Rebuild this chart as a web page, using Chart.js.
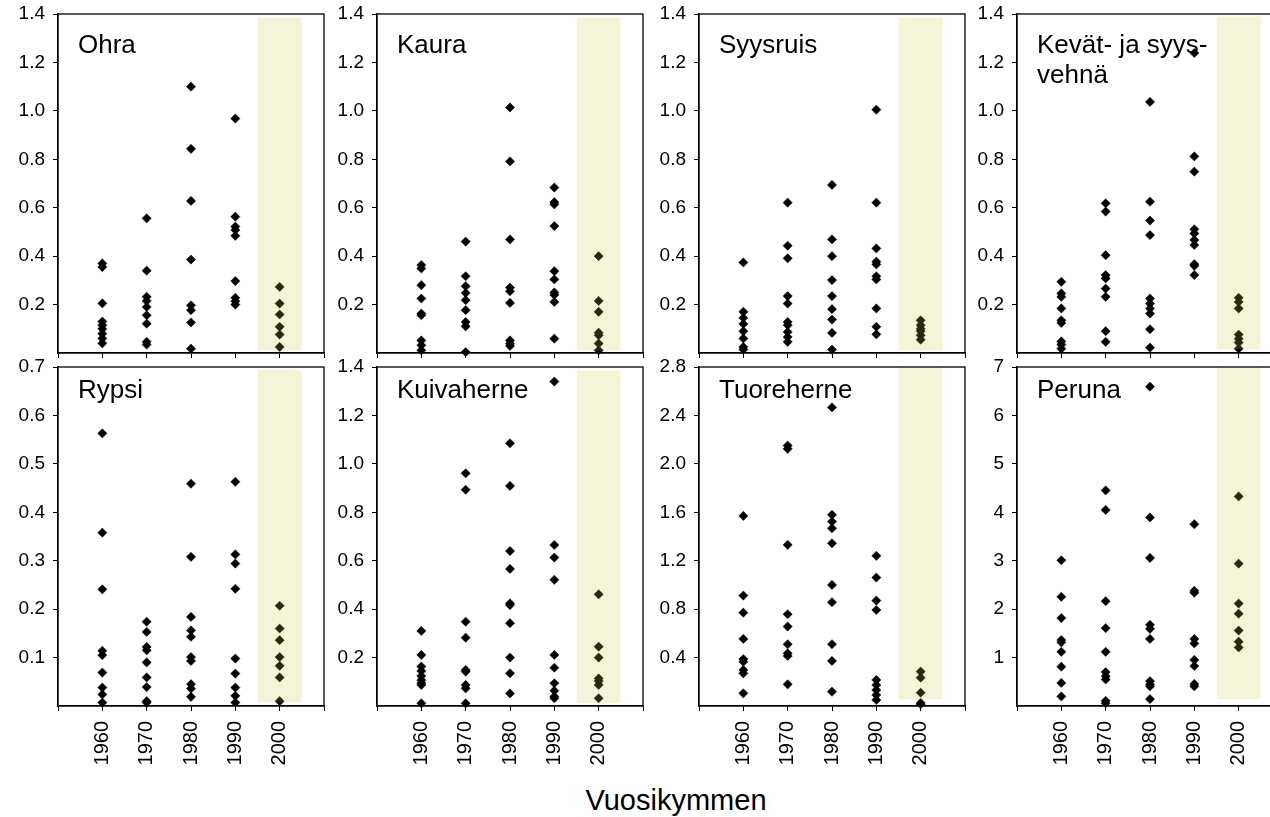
<!DOCTYPE html>
<html>
<head>
<meta charset="utf-8">
<script src="https://cdn.jsdelivr.net/npm/chart.js@4.4.1/dist/chart.umd.min.js"></script>
<style>
  body { margin: 0; background: #fff; width: 1270px; height: 817px; overflow: hidden; position: relative;
         font-family: "Liberation Sans", Arial, sans-serif; }
  canvas { position: absolute; }
  #xtitle { position: absolute; left: 476px; width: 400px; top: 786px; text-align: center;
            font-size: 29px; line-height: 29px; color: #000; }
</style>
</head>
<body>
<div id="xtitle">Vuosikymmen</div>
<script>
// decades on the x axis, one list of values per decade for every crop
const decades = [1960, 1970, 1980, 1990, 2000];
const xTicks = [1950, 1960, 1970, 1980, 1990, 2000, 2010];

const ohra = [
  [0.37, 0.355, 0.205, 0.13, 0.115, 0.10, 0.08, 0.06, 0.04],
  [0.556, 0.34, 0.232, 0.215, 0.19, 0.156, 0.121, 0.046, 0.035],
  [1.10, 0.843, 0.628, 0.386, 0.197, 0.177, 0.126, 0.018],
  [0.968, 0.563, 0.522, 0.508, 0.484, 0.297, 0.228, 0.214, 0.20],
  [0.273, 0.204, 0.159, 0.108, 0.076, 0.025]
];
const kaura = [
  [0.363, 0.349, 0.28, 0.225, 0.163, 0.156, 0.052, 0.032, 0.011],
  [0.46, 0.317, 0.276, 0.248, 0.218, 0.177, 0.128, 0.11, 0.004],
  [1.014, 0.791, 0.469, 0.27, 0.255, 0.207, 0.052, 0.039, 0.029],
  [0.683, 0.623, 0.614, 0.524, 0.338, 0.304, 0.25, 0.24, 0.211, 0.059],
  [0.40, 0.215, 0.17, 0.084, 0.073, 0.039, 0.011]
];
const syysruis = [
  [0.374, 0.17, 0.145, 0.12, 0.09, 0.06, 0.025, 0.014],
  [0.621, 0.443, 0.391, 0.235, 0.204, 0.128, 0.115, 0.087, 0.066, 0.046],
  [0.694, 0.469, 0.40, 0.301, 0.235, 0.181, 0.138, 0.083, 0.014],
  [1.005, 0.621, 0.432, 0.377, 0.366, 0.317, 0.304, 0.184, 0.108, 0.077],
  [0.135, 0.115, 0.10, 0.09, 0.073, 0.055]
];
const vehna = [
  [0.294, 0.246, 0.232, 0.184, 0.135, 0.124, 0.048, 0.035, 0.018],
  [0.618, 0.584, 0.404, 0.322, 0.308, 0.266, 0.232, 0.09, 0.046],
  [1.037, 0.625, 0.547, 0.487, 0.225, 0.204, 0.184, 0.163, 0.098, 0.022],
  [1.239, 0.812, 0.749, 0.511, 0.494, 0.467, 0.446, 0.367, 0.36, 0.322],
  [0.228, 0.211, 0.184, 0.076, 0.059, 0.043, 0.018]
];
const rypsi = [
  [0.563, 0.358, 0.241, 0.114, 0.105, 0.069, 0.038, 0.024, 0.007],
  [0.174, 0.153, 0.122, 0.115, 0.09, 0.059, 0.039, 0.01, 0.007],
  [0.459, 0.308, 0.184, 0.156, 0.143, 0.101, 0.093, 0.045, 0.036, 0.019],
  [0.463, 0.313, 0.294, 0.242, 0.098, 0.067, 0.038, 0.021, 0.007],
  [0.207, 0.16, 0.136, 0.101, 0.083, 0.059, 0.01]
];
const kuivaherne = [
  [0.31, 0.211, 0.163, 0.145, 0.124, 0.107, 0.095, 0.087, 0.011],
  [0.961, 0.893, 0.348, 0.282, 0.149, 0.142, 0.087, 0.073, 0.011],
  [1.085, 0.909, 0.64, 0.566, 0.424, 0.417, 0.342, 0.20, 0.135, 0.052],
  [1.34, 0.665, 0.613, 0.521, 0.211, 0.158, 0.094, 0.063, 0.039, 0.032],
  [0.461, 0.245, 0.20, 0.114, 0.103, 0.087, 0.032]
];
const tuoreherne = [
  [1.57, 0.912, 0.771, 0.554, 0.388, 0.366, 0.298, 0.27, 0.105],
  [2.151, 2.124, 1.331, 0.758, 0.656, 0.51, 0.435, 0.413, 0.179],
  [2.466, 1.579, 1.523, 1.468, 1.344, 1.0, 0.857, 0.51, 0.372, 0.118],
  [1.24, 1.061, 0.871, 0.793, 0.215, 0.174, 0.132, 0.091, 0.05],
  [0.284, 0.234, 0.11, 0.025, 0.015]
];
const peruna = [
  [3.01, 2.255, 1.816, 1.363, 1.314, 1.119, 0.812, 0.477, 0.198],
  [4.452, 4.048, 2.165, 1.607, 1.119, 0.70, 0.616, 0.547, 0.107, 0.059],
  [6.593, 3.894, 3.057, 1.676, 1.593, 1.384, 0.512, 0.442, 0.407, 0.142],
  [3.754, 2.38, 2.338, 1.384, 1.293, 0.951, 0.826, 0.456, 0.407],
  [4.327, 2.939, 2.116, 1.906, 1.558, 1.328, 1.209]
];

const cropNames = [['Ohra'], ['Kaura'], ['Syysruis'], ['Kevät- ja syys-', 'vehnä'],
                   ['Rypsi'], ['Kuivaherne'], ['Tuoreherne'], ['Peruna']];
const cropData = [ohra, kaura, syysruis, vehna, rypsi, kuivaherne, tuoreherne, peruna];

const ticksCereal = [0.2, 0.4, 0.6, 0.8, 1.0, 1.2, 1.4];
const ticksRypsi = [0.1, 0.2, 0.3, 0.4, 0.5, 0.6, 0.7];
const ticksTuore = [0.4, 0.8, 1.2, 1.6, 2.0, 2.4, 2.8];
const ticksPeruna = [1, 2, 3, 4, 5, 6, 7];
const yTicks = [ticksCereal, ticksCereal, ticksCereal, ticksCereal, ticksRypsi, ticksCereal, ticksTuore, ticksPeruna];
const yMax = [1.4, 1.4, 1.4, 1.4, 0.7, 1.4, 2.8, 7];
const yDecimals = [1, 1, 1, 1, 1, 1, 1, 0];

// highlighted 2000s band
const shadeFrom = 1995, shadeTo = 2005;
const shadeTop = [1.386, 1.386, 1.386, 1.39, 0.694, 1.384, 2.8, 7.0];
const shadeBottom = [0.01, 0.01, 0.01, 0.017, 0.007, 0.011, 0.055, 0.14];

// layout
const FONT = '"Liberation Sans", Arial, sans-serif';
const colLeft = [58, 377, 699, 1017];
const rowTop = [14, 367];
const plotW = 266, plotH = 339, axisW = 58, padR = 14, padT = 14;
const xAxisH = [8, 80];
const titleDy = [39, 31];

const frame = {
  id: 'frame',
  afterDraw(chart) {
    const { ctx, chartArea: a } = chart;
    ctx.save();
    ctx.strokeStyle = '#000';
    ctx.lineWidth = 1.3;
    ctx.strokeRect(a.left, a.top, a.right - a.left, a.bottom - a.top);
    ctx.restore();
  }
};

const cropTitle = {
  id: 'cropTitle',
  afterDraw(chart, args, opts) {
    const { ctx, chartArea: a } = chart;
    ctx.save();
    ctx.fillStyle = '#000';
    ctx.font = '26px ' + FONT;
    ctx.textBaseline = 'alphabetic';
    opts.lines.forEach((t, k) => ctx.fillText(t, a.left + 20, a.top + opts.dy + k * 30));
    ctx.restore();
  }
};

cropData.forEach((series, i) => {
  const row = i < 4 ? 0 : 1, col = i % 4;
  const canvas = document.createElement('canvas');
  canvas.width = axisW + plotW + padR;
  canvas.height = padT + plotH + xAxisH[row];
  canvas.style.left = (colLeft[col] - axisW) + 'px';
  canvas.style.top = (rowTop[row] - padT) + 'px';
  document.body.appendChild(canvas);

  const points = decades.flatMap((d, j) => series[j].map(v => ({ x: d, y: v })));

  new Chart(canvas, {
    type: 'scatter',
    data: {
      datasets: [
        {
          type: 'line',
          data: [{ x: shadeFrom, y: shadeTop[i] }, { x: shadeTo, y: shadeTop[i] }],
          fill: { value: shadeBottom[i] },
          backgroundColor: 'rgba(200, 205, 60, 0.2)',
          borderColor: 'rgba(0,0,0,0)',
          borderWidth: 0,
          pointRadius: 0,
          order: 0
        },
        {
          data: points,
          pointStyle: 'rectRot',
          pointRadius: 4.6,
          pointBackgroundColor: '#000',
          pointBorderColor: '#000',
          pointBorderWidth: 0.5,
          clip: false,
          order: 1
        }
      ]
    },
    options: {
      responsive: false,
      animation: false,
      events: [],
      layout: { autoPadding: false, padding: { top: padT, right: padR, left: 0, bottom: 0 } },
      plugins: {
        legend: { display: false },
        tooltip: { enabled: false },
        cropTitle: { lines: cropNames[i], dy: titleDy[row] }
      },
      scales: {
        x: {
          type: 'linear',
          min: xTicks[0],
          max: xTicks[xTicks.length - 1],
          afterBuildTicks: s => { s.ticks = xTicks.map(v => ({ value: v })); },
          afterFit: s => { s.height = xAxisH[row]; s.paddingLeft = 0; s.paddingRight = 0; },
          ticks: {
            display: row === 1,
            autoSkip: false,
            minRotation: 90,
            maxRotation: 90,
            padding: 10,
            color: '#000',
            font: { family: FONT, size: 20 },
            callback: v => decades.includes(v) ? String(v) : ''
          },
          grid: { drawOnChartArea: false, drawTicks: true, tickLength: 5, color: '#000' },
          border: { color: '#000', width: 1.3 }
        },
        y: {
          min: 0,
          max: yMax[i],
          afterBuildTicks: s => { s.ticks = yTicks[i].map(v => ({ value: v })); },
          afterFit: s => { s.width = axisW; s.paddingTop = 0; s.paddingBottom = 0; },
          ticks: {
            padding: 8,
            color: '#000',
            font: { family: FONT, size: 19 },
            callback: v => v.toFixed(yDecimals[i])
          },
          grid: { drawOnChartArea: false, drawTicks: true, tickLength: 5, color: '#000' },
          border: { color: '#000', width: 1.3 }
        }
      }
    },
    plugins: [frame, cropTitle]
  });
});
</script>
</body>
</html>
